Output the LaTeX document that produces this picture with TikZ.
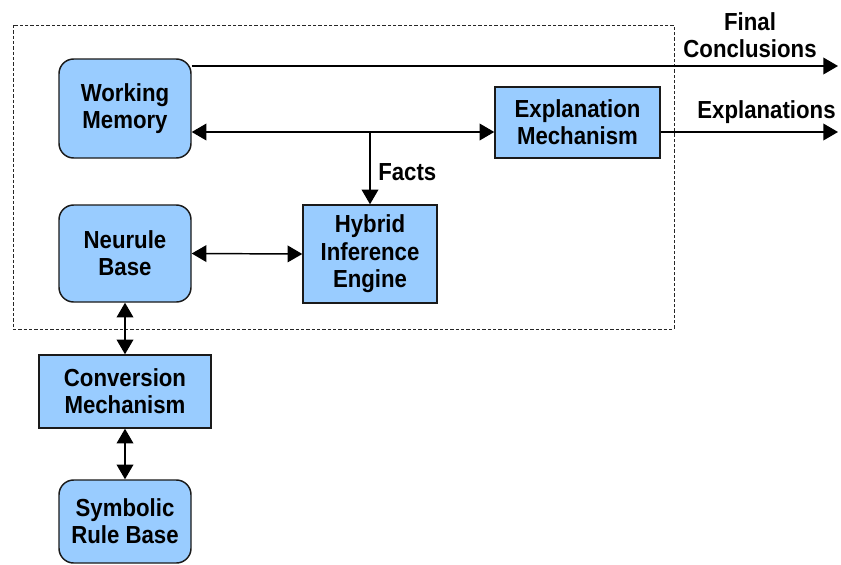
\documentclass[tikz,border=0pt]{standalone}
\usepackage{fontspec}
\setmainfont[FakeStretch=0.9]{Liberation Sans}
\usetikzlibrary{arrows.meta,calc}
\definecolor{boxblue}{HTML}{99CCFF}
\definecolor{edge}{HTML}{1A1A1A}
\begin{document}
\begin{tikzpicture}[x=0.75pt,y=-0.75pt,
  font=\fontsize{18.5}{20.5}\selectfont\bfseries,
  blk/.style={draw=edge,line width=1.1pt,fill=boxblue,align=center,inner sep=0pt},
  rblk/.style={blk,rounded corners=11pt},
  conn/.style={line width=1.1pt,draw=black},
  arr/.style={conn,-{Triangle[length=11pt,width=12.5pt]}},
  darr/.style={conn,{Triangle[length=11pt,width=12.5pt]}-{Triangle[length=11pt,width=12.5pt]}},
  lab/.style={align=center,inner sep=0pt}]
\useasboundingbox (0,0) rectangle (841,564);
\fill[white] (0,0) rectangle (841,564);
\draw[line width=0.7pt,draw=black!85,dash pattern=on 2.5pt off 1.5pt] (13,25) rectangle (674,329);
\node[rblk,minimum width=99pt,minimum height=74.25pt] (wm) at (125,108.5) {Working\\Memory};
\node[rblk,minimum width=99pt,minimum height=72.75pt] (nb) at (125,253.5) {Neurule\\Base};
\node[blk,minimum width=100.5pt,minimum height=73.5pt] (hie) at (370,254) {Hybrid\\Inference\\Engine};
\node[blk,minimum width=123.75pt,minimum height=53.25pt] (em) at (577.5,122.5) {Explanation\\Mechanism};
\node[blk,minimum width=129pt,minimum height=54.75pt] (cm) at (125,391.5) {Conversion\\Mechanism};
\node[rblk,minimum width=99pt,minimum height=62.25pt] (srb) at (125,521.5) {Symbolic\\Rule Base};
\coordinate (fcend) at (838,66);
\coordinate (exend) at (838,132);
\coordinate (mid) at (370,132);
\draw[arr] ($(wm.east)+(0,-42.5)$) -- (fcend);
\draw[darr] ($(wm.east)+(0,23.5)$) -- ($(em.west)+(0,9.5)$);
\draw[arr] (mid) -- (hie.north);
\draw[arr] ($(em.east)+(0,9.5)$) -- (exend);
\draw[darr] (nb.east) -- (hie.west);
\draw[darr] (nb.south) -- (cm.north);
\draw[darr] (cm.south) -- (srb.north);
\node[lab] (fclab) at (750,35) {Final\\Conclusions};
\node[lab] (exlab) at (766.5,112.5) {Explanations};
\node[lab,anchor=west] (facts) at (378,172) {Facts};
\end{tikzpicture}
\end{document}
